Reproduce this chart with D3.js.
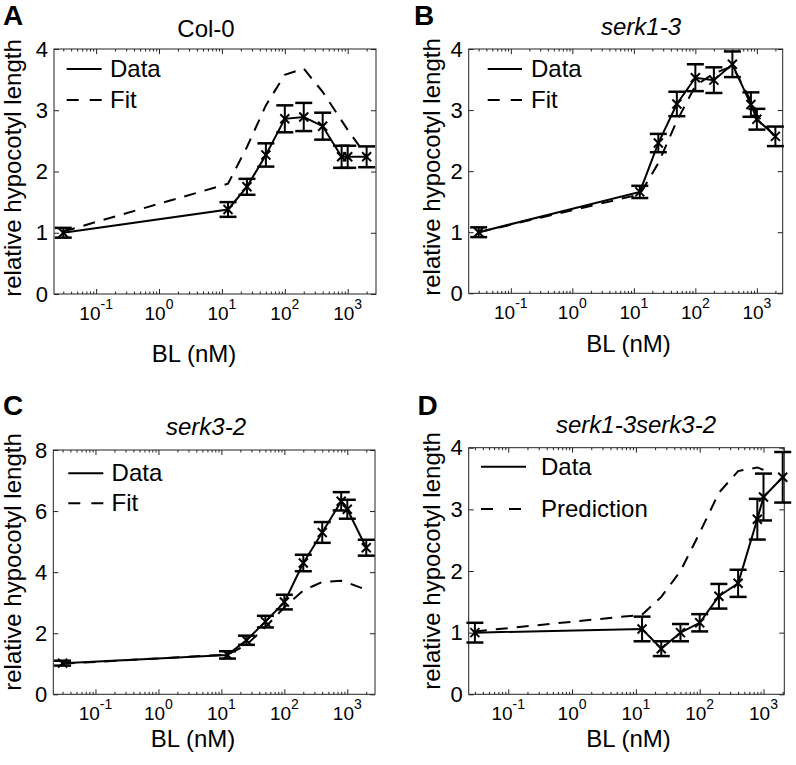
<!DOCTYPE html>
<html><head><meta charset="utf-8">
<script src="https://cdn.jsdelivr.net/npm/d3@7"></script>
<style>
body{margin:0;background:#fff;}
svg{display:block;font-family:"Liberation Sans",Arial,Helvetica,sans-serif;}
</style>
</head><body>
<svg id="chart" width="796" height="765"></svg>
<script>
// ---------------- DATA ----------------
const concentrations = [0.03, 12.5, 25, 50, 100, 200, 400, 800, 1000, 2000]; // BL (nM)

const col0Data = [1.0, 1.38, 1.75, 2.27, 2.86, 2.89, 2.74, 2.24, 2.24, 2.24];
const col0Err  = [0.08, 0.12, 0.13, 0.19, 0.22, 0.23, 0.22, 0.18, 0.18, 0.17];
const col0Fit  = [1.02, 1.8, 2.4, 3.08, 3.58, 3.68, 3.3, 2.83, 2.68, 2.25];

const serk13Data = [1.0, 1.66, 2.46, 3.1, 3.53, 3.49, 3.75, 3.09, 2.85, 2.57];
const serk13Err  = [0.08, 0.1, 0.15, 0.2, 0.22, 0.21, 0.21, 0.2, 0.17, 0.16];
const serk13Fit  = [1.0, 1.62, 2.13, 2.82, 3.4, 3.6, 3.72, 3.15, 2.92, 2.55];

const serk32Data = [1.02, 1.29, 1.77, 2.38, 3.02, 4.3, 5.3, 6.32, 6.06, 4.8];
const serk32Err  = [0.08, 0.12, 0.15, 0.19, 0.24, 0.27, 0.34, 0.3, 0.31, 0.26];
const serk32Fit  = [1.0, 1.3, 1.62, 2.2, 2.85, 3.4, 3.68, 3.72, 3.66, 3.42];

const doubleData = [1.0, 1.06, 0.74, 1.0, 1.16, 1.59, 1.8, 2.84, 3.2, 3.52];
const doubleErr  = [0.16, 0.2, 0.12, 0.14, 0.14, 0.2, 0.22, 0.33, 0.38, 0.41];
const doublePred = [1.02, 1.29, 1.58, 2.0, 2.62, 3.27, 3.62, 3.68, 3.64]; // up to 1000 nM

const xTickValues = [0.1, 1, 10, 100, 1000];
const xTickExponents = ["-1", "0", "1", "2", "3"];
const yTicks4 = [0, 1, 2, 3, 4];
const yTicks8 = [0, 2, 4, 6, 8];

const panelLetters = ["A", "B", "C", "D"];
const panelTitles = ["Col-0", "serk1-3", "serk3-2", "serk1-3serk3-2"];
const legendLabels = [["Data", "Fit"], ["Data", "Fit"], ["Data", "Fit"], ["Data", "Prediction"]];
const yLabel = "relative hypocotyl length";
const xLabel = "BL (nM)";

// ---------------- LAYOUT ----------------
const panels = [
  { frame:{l:54, r:376, t:49, b:294}, xDom:[-1.67, 3.45], yMax:4, yTicks:yTicks4,
    data:col0Data, err:col0Err, fit:col0Fit, italic:false,
    letter:[3,25], title:[206,37], ylab:[21,168], xlab:[194,362],
    leg:{x1:12.7, x2:47.7, y1:20, y2:51, tx:56, dash:"12,11"} },
  { frame:{l:468.7, r:782.7, t:49, b:293.3}, xDom:[-1.685, 3.42], yMax:4, yTicks:yTicks4,
    data:serk13Data, err:serk13Err, fit:serk13Fit, italic:true,
    letter:[414,25], title:[641,35], ylab:[440,167], xlab:[628.5,352],
    leg:{x1:19, x2:53.3, y1:20, y2:51, tx:62.3, dash:"12,11"} },
  { frame:{l:53.3, r:375, t:450, b:694.3}, xDom:[-1.67, 3.44], yMax:8, yTicks:yTicks8,
    data:serk32Data, err:serk32Err, fit:serk32Fit, italic:true,
    letter:[3,415], title:[206,435], ylab:[20.5,562], xlab:[193,747],
    leg:{x1:15, x2:50, y1:23.3, y2:53.3, tx:58.3, dash:"12,11"} },
  { frame:{l:468.7, r:784.3, t:447.7, b:694.3}, xDom:[-1.62, 3.326], yMax:4, yTicks:yTicks4,
    data:doubleData, err:doubleErr, fit:doublePred, italic:true,
    letter:[417.5,415], title:[636,433], ylab:[440,561], xlab:[628.5,747],
    leg:{x1:12.3, x2:57.3, y1:19, y2:61.3, tx:72.3, dash:"12,16"} }
];

const svg = d3.select("#chart");
const INK = "#000";
const FRAME = "#222";

// minor tick values for log axis
function minorTicks(lo, hi) {
  const out = [];
  for (let e = Math.floor(lo); e <= Math.ceil(hi); e++) {
    for (let m = 2; m <= 9; m++) {
      const v = m * Math.pow(10, e);
      if (Math.log10(v) > lo && Math.log10(v) < hi) out.push(v);
    }
  }
  return out;
}

panels.forEach((p, i) => {
  const f = p.frame;
  const g = svg.append("g");
  const x = d3.scaleLog().domain([Math.pow(10, p.xDom[0]), Math.pow(10, p.xDom[1])]).range([f.l, f.r]);
  const y = d3.scaleLinear().domain([0, p.yMax]).range([f.b, f.t]);

  const minors = minorTicks(p.xDom[0], p.xDom[1]);
  const mk = (axis, ty, vals, size) => {
    const a = g.append("g").attr("transform", `translate(0,${ty})`)
      .call(axis(x).tickValues(vals).tickSizeInner(size).tickSizeOuter(0).tickFormat(""));
    a.select(".domain").remove();
    a.selectAll("line").attr("stroke", FRAME).attr("stroke-width", 1);
  };
  mk(d3.axisBottom, f.b, xTickValues, -5);
  mk(d3.axisBottom, f.b, minors, -2.5);
  mk(d3.axisTop, f.t, xTickValues, -5);
  mk(d3.axisTop, f.t, minors, -2.5);

  const ya = g.append("g").attr("transform", `translate(${f.l},0)`)
    .call(d3.axisLeft(y).tickValues(p.yTicks).tickSizeInner(-5).tickSizeOuter(0).tickPadding(6).tickFormat(d3.format("d")));
  ya.select(".domain").remove();
  ya.selectAll("line").attr("stroke", FRAME);
  ya.selectAll("text").attr("font-size", 22).attr("fill", INK).attr("font-family", "Liberation Sans, Arial, sans-serif");
  const yb = g.append("g").attr("transform", `translate(${f.r},0)`)
    .call(d3.axisRight(y).tickValues(p.yTicks).tickSizeInner(-5).tickSizeOuter(0).tickFormat(""));
  yb.select(".domain").remove();
  yb.selectAll("line").attr("stroke", FRAME);

  g.append("rect").attr("x", f.l).attr("y", f.t).attr("width", f.r - f.l).attr("height", f.b - f.t)
    .attr("fill", "none").attr("stroke", FRAME).attr("stroke-width", 1);

  xTickValues.forEach((v, k) => {
    const t = g.append("text").attr("x", x(v)).attr("y", f.b + 26)
      .attr("text-anchor", "middle").attr("fill", INK);
    t.append("tspan").attr("font-size", 19).text("10");
    t.append("tspan").attr("font-size", 14).attr("dy", -11).text(xTickExponents[k]);
  });

  const fitPts = p.fit.map((v, k) => [concentrations[k], v]);
  g.append("path").datum(fitPts)
    .attr("d", d3.line().x(d => x(d[0])).y(d => y(d[1])))
    .attr("fill", "none").attr("stroke", INK).attr("stroke-width", 2)
    .attr("stroke-dasharray", "12,9");

  const pts = p.data.map((v, k) => [concentrations[k], v, p.err[k]]);
  g.append("path").datum(pts)
    .attr("d", d3.line().x(d => x(d[0])).y(d => y(d[1])))
    .attr("fill", "none").attr("stroke", INK).attr("stroke-width", 2);

  const eb = g.append("g").attr("stroke", INK).attr("stroke-width", 2);
  pts.forEach(d => {
    const cx = x(d[0]), y1 = y(d[1] - d[2]), y2 = y(d[1] + d[2]);
    eb.append("line").attr("x1", cx).attr("x2", cx).attr("y1", y1).attr("y2", y2);
    eb.append("line").attr("x1", cx - 8.5).attr("x2", cx + 8.5).attr("y1", y1).attr("y2", y1).attr("stroke-width", 2.5);
    eb.append("line").attr("x1", cx - 8.5).attr("x2", cx + 8.5).attr("y1", y2).attr("y2", y2).attr("stroke-width", 2.5);
    const cy = y(d[1]);
    eb.append("line").attr("x1", cx - 4.5).attr("x2", cx + 4.5).attr("y1", cy - 4.5).attr("y2", cy + 4.5);
    eb.append("line").attr("x1", cx - 4.5).attr("x2", cx + 4.5).attr("y1", cy + 4.5).attr("y2", cy - 4.5);
  });

  const L = p.leg;
  g.append("line").attr("x1", f.l + L.x1).attr("x2", f.l + L.x2).attr("y1", f.t + L.y1).attr("y2", f.t + L.y1)
    .attr("stroke", INK).attr("stroke-width", 2);
  g.append("line").attr("x1", f.l + L.x1).attr("x2", f.l + L.x2).attr("y1", f.t + L.y2).attr("y2", f.t + L.y2)
    .attr("stroke", INK).attr("stroke-width", 2).attr("stroke-dasharray", L.dash);
  [L.y1, L.y2].forEach((ly, k) => {
    g.append("text").attr("x", f.l + L.tx).attr("y", f.t + ly + 8)
      .attr("font-size", 24).attr("fill", INK).text(legendLabels[i][k]);
  });

  g.append("text").attr("x", p.title[0]).attr("y", p.title[1]).attr("text-anchor", "middle")
    .attr("font-size", 24).attr("font-style", p.italic ? "italic" : "normal").attr("fill", INK)
    .text(panelTitles[i]);
  g.append("text").attr("x", p.xlab[0]).attr("y", p.xlab[1]).attr("text-anchor", "middle")
    .attr("font-size", 24).attr("fill", INK).text(xLabel);
  g.append("text").attr("transform", `translate(${p.ylab[0]},${p.ylab[1]}) rotate(-90)`)
    .attr("text-anchor", "middle").attr("font-size", 24).attr("fill", INK).text(yLabel);
  g.append("text").attr("x", p.letter[0]).attr("y", p.letter[1])
    .attr("font-size", 28).attr("font-weight", "bold").attr("fill", INK).text(panelLetters[i]);
});
</script>
</body></html>
